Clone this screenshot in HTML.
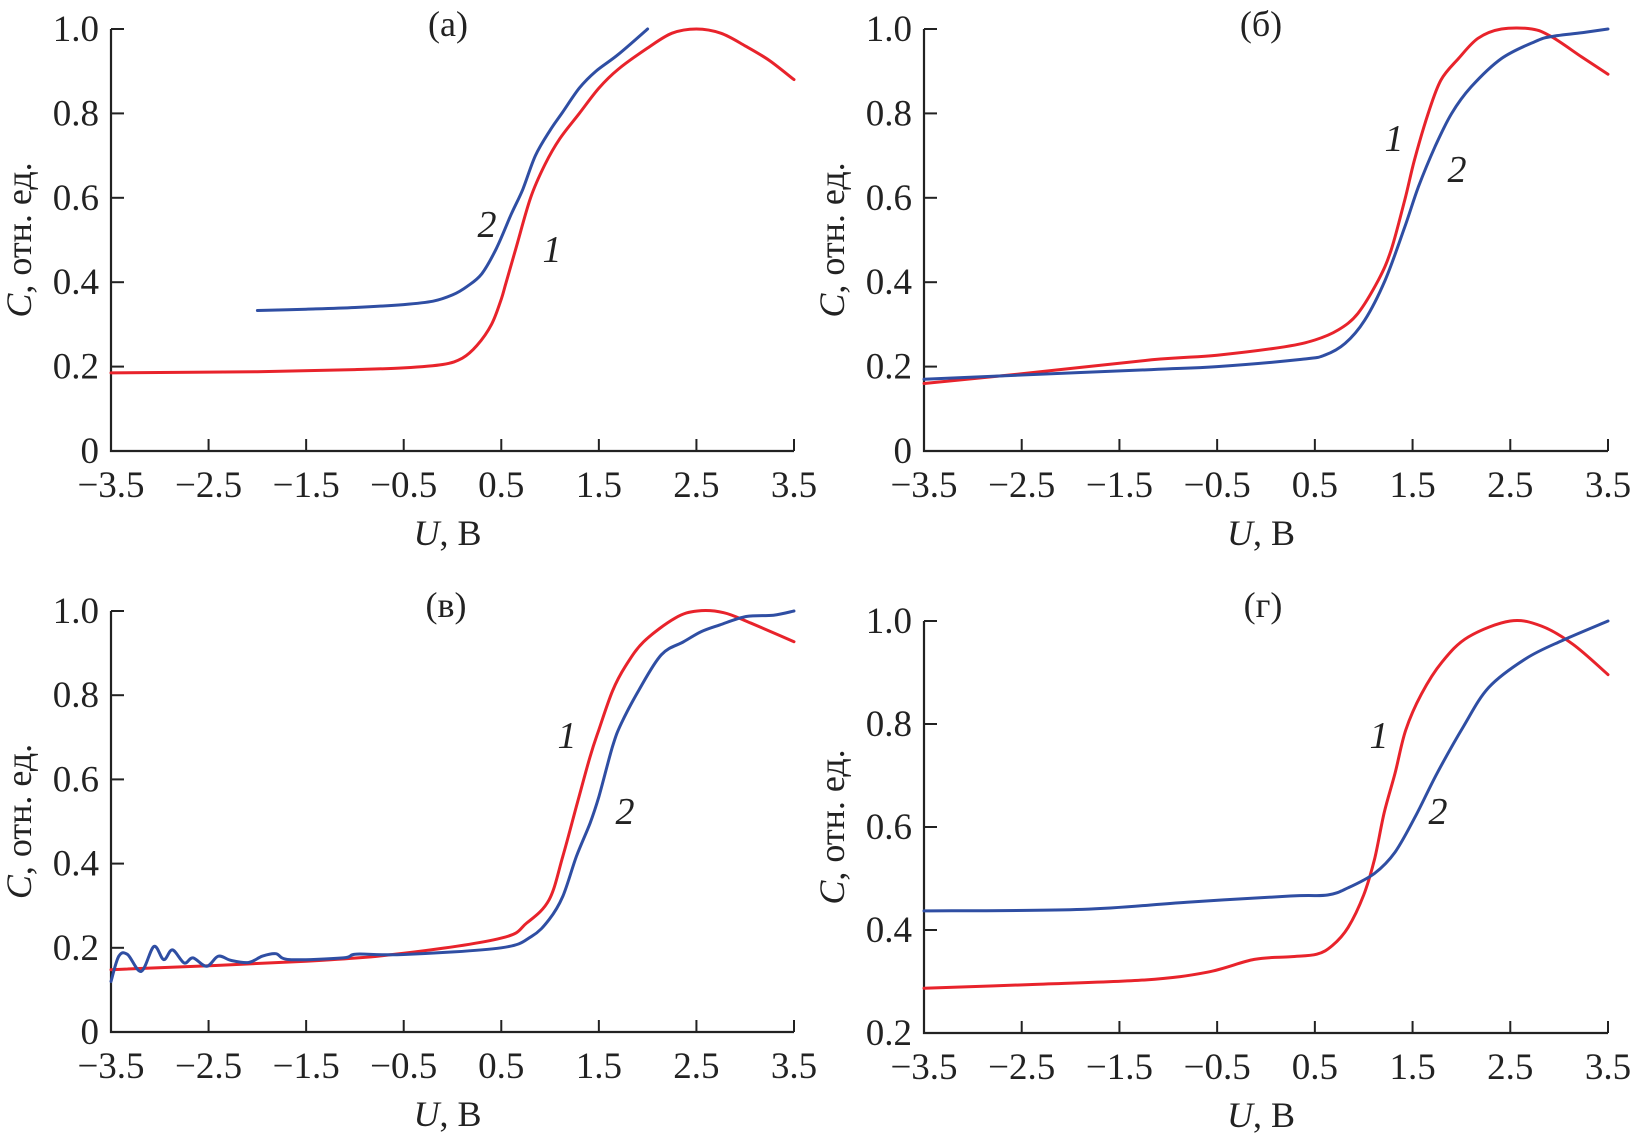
<!DOCTYPE html>
<html><head><meta charset="utf-8"><style>
html,body{margin:0;padding:0;background:#fff;}
svg{display:block;}
text{font-family:"Liberation Serif",serif;fill:#222;}
</style></head><body>
<svg id="fig" width="1634" height="1133" viewBox="0 0 1634 1133" xmlns="http://www.w3.org/2000/svg"></svg>
<script>
// ---- data ----
const xTicks = [-3.5,-2.5,-1.5,-0.5,0.5,1.5,2.5,3.5];
const xTickLabels = ["\u22123.5","\u22122.5","\u22121.5","\u22120.5","0.5","1.5","2.5","3.5"];
const yTicksA = [0,0.2,0.4,0.6,0.8,1.0];
const yTickLabelsA = ["0","0.2","0.4","0.6","0.8","1.0"];
const yTicksG = [0.2,0.4,0.6,0.8,1.0];
const yTickLabelsG = ["0.2","0.4","0.6","0.8","1.0"];
const panelTitles = ["(а)","(б)","(в)","(г)"];

const aRedU = [-3.5,-2,-1,-0.5,-0.1,0.1,0.25,0.4,0.5,0.55,0.65,0.8,0.95,1.1,1.3,1.5,1.7,2.0,2.25,2.5,2.75,3.0,3.25,3.5];
const aRedC = [0.185,0.188,0.193,0.197,0.205,0.22,0.25,0.3,0.36,0.4,0.48,0.6,0.68,0.74,0.8,0.86,0.905,0.955,0.99,1.0,0.99,0.96,0.925,0.88];
const aBlueU = [-2,-1.5,-1,-0.5,-0.2,0,0.15,0.3,0.45,0.6,0.72,0.85,1.0,1.12,1.3,1.47,1.7,2.0];
const aBlueC = [0.333,0.336,0.34,0.347,0.355,0.37,0.39,0.42,0.48,0.56,0.62,0.7,0.76,0.8,0.86,0.9,0.94,1.0];

const bRedU = [-3.5,-2.5,-1.17,-0.5,0.19,0.5,0.74,0.94,1.15,1.28,1.42,1.52,1.66,1.79,1.97,2.17,2.41,2.72,2.92,3.23,3.5];
const bRedC = [0.16,0.183,0.216,0.227,0.247,0.263,0.287,0.326,0.405,0.476,0.595,0.69,0.8,0.879,0.93,0.978,1.0,1.0,0.982,0.934,0.893];
const bBlueU = [-3.5,-2.5,-1.17,-0.5,0.36,0.6,0.81,1.01,1.22,1.42,1.56,1.73,1.9,2.1,2.41,2.75,2.92,3.26,3.5];
const bBlueC = [0.17,0.18,0.193,0.2,0.217,0.227,0.255,0.31,0.405,0.531,0.626,0.721,0.8,0.863,0.93,0.97,0.982,0.992,1.0];

const vRedU = [-3.5,-1.5,-0.5,0.5,0.76,0.99,1.13,1.27,1.41,1.5,1.64,1.77,1.96,2.28,2.51,2.78,3.06,3.5];
const vRedC = [0.148,0.168,0.187,0.223,0.259,0.314,0.417,0.536,0.654,0.718,0.81,0.868,0.927,0.983,1.0,0.996,0.971,0.927];
const vBlueU = [-3.5,-3.42,-3.33,-3.19,-3.06,-2.96,-2.87,-2.75,-2.66,-2.52,-2.4,-2.27,-2.09,-1.95,-1.81,-1.67,-1.12,-0.98,-0.5,0.5,0.81,0.99,1.13,1.27,1.41,1.5,1.64,1.73,1.91,2.14,2.37,2.55,2.74,3.01,3.29,3.5];
const vBlueC = [0.12,0.18,0.184,0.144,0.203,0.172,0.195,0.164,0.176,0.156,0.18,0.17,0.165,0.18,0.186,0.172,0.176,0.185,0.184,0.2,0.227,0.267,0.322,0.417,0.496,0.559,0.678,0.733,0.812,0.896,0.927,0.951,0.967,0.987,0.99,1.0];

const gRedU = [-3.5,-2.42,-1.24,-0.6,-0.12,0.25,0.52,0.68,0.84,1.0,1.11,1.21,1.32,1.43,1.59,1.8,2.07,2.5,2.82,3.14,3.5];
const gRedC = [0.287,0.294,0.303,0.318,0.343,0.348,0.353,0.37,0.405,0.468,0.537,0.628,0.704,0.788,0.858,0.92,0.969,1.0,0.99,0.955,0.896];
const gBlueU = [-3.5,-1.88,-0.81,0.25,0.63,0.84,1.11,1.32,1.53,1.75,2.02,2.28,2.66,3.03,3.5];
const gBlueC = [0.437,0.44,0.454,0.466,0.468,0.482,0.51,0.551,0.621,0.704,0.795,0.871,0.927,0.962,1.0];

// ---- drawing ----
const NS = "http://www.w3.org/2000/svg";
const svg = document.getElementById("fig");
function mk(tag, attrs, parent){
  const e = document.createElementNS(NS, tag);
  for (const k in attrs) e.setAttribute(k, attrs[k]);
  (parent||svg).appendChild(e);
  return e;
}
const RED = "#e8232b", BLUE = "#2f4ea3";

function smoothPath(pts){
  let d = "M" + pts[0][0].toFixed(1) + "," + pts[0][1].toFixed(1);
  for (let i = 0; i < pts.length - 1; i++){
    const p0 = pts[Math.max(0,i-1)], p1 = pts[i], p2 = pts[i+1], p3 = pts[Math.min(pts.length-1,i+2)];
    const c1x = p1[0] + (p2[0]-p0[0])/6, c1y = p1[1] + (p2[1]-p0[1])/6;
    const c2x = p2[0] - (p3[0]-p1[0])/6, c2y = p2[1] - (p3[1]-p1[1])/6;
    d += ` C${c1x.toFixed(1)},${c1y.toFixed(1)} ${c2x.toFixed(1)},${c2y.toFixed(1)} ${p2[0].toFixed(1)},${p2[1].toFixed(1)}`;
  }
  return d;
}

function panel(key, x0, x1, yTop, yBot, yMin, yTicks, yLabels, title, titlePos, series, labels){
  const g = mk("g", {});
  
  
  const sx = u => x0 + (u + 3.5) / 7 * (x1 - x0);
  const sy = c => yBot - (c - yMin) / (1 - yMin) * (yBot - yTop);
  const ax = mk("path", {d:`M${x0},${yTop} L${x0},${yBot} L${x1},${yBot}`, fill:"none", stroke:"#222", "stroke-width":2.2}, g);
  
  
  xTicks.forEach((u,i)=>{
    const t = mk("line", {x1:sx(u), x2:sx(u), y1:yBot, y2:yBot-12, stroke:"#222","stroke-width":2}, g);
    
    
    const tl = mk("text", {x:sx(u), y:yBot+46, "text-anchor":"middle", "font-size":37}, g);
    
    
    tl.textContent = xTickLabels[i];
  });
  yTicks.forEach((c,i)=>{
    const t = mk("line", {x1:x0, x2:x0+13, y1:sy(c), y2:sy(c), stroke:"#222","stroke-width":2}, g);
    
    
    const tl = mk("text", {x:x0-12, y:sy(c)+12, "text-anchor":"end", "font-size":37}, g);
    
    
    tl.textContent = yLabels[i];
  });
  const cy = (yTop+yBot)/2;
  const yt = mk("text", {x:0, y:0, transform:`translate(${x0-80},${cy}) rotate(-90)`, "text-anchor":"middle", "font-size":36}, g);
  
  
  yt.innerHTML = '<tspan font-style="italic">C</tspan>, отн. ед.';
  const xt = mk("text", {x:(x0+x1)/2-5, y:yBot+94, "text-anchor":"middle", "font-size":36}, g);
  
  
  xt.innerHTML = '<tspan font-style="italic">U</tspan>, В';
  const pt = mk("text", {x:titlePos[0], y:titlePos[1], "text-anchor":"middle", "font-size":36}, g);
  
  
  pt.textContent = title;
  series.forEach(s=>{
    const pts = s.u.map((u,i)=>[sx(u), sy(s.c[i])]);
    const p = mk("path", {d:smoothPath(pts), fill:"none", stroke:s.color, "stroke-width":3, "stroke-linejoin":"round", "stroke-linecap":"round"}, g);
    
    
  });
  labels.forEach(l=>{
    const t = mk("text", {x:l[1], y:l[2], "text-anchor":"middle", "font-size":38, "font-style":"italic"}, g);
    
    
    t.textContent = l[0];
  });
}

panel("a", 111, 794, 29, 451, 0, yTicksA, yTickLabelsA, panelTitles[0], [448,36],
  [{u:aRedU,c:aRedC,color:RED,name:"curve-1-red"},{u:aBlueU,c:aBlueC,color:BLUE,name:"curve-2-blue"}],
  [["2",487,237],["1",552,262]]);
panel("b", 924, 1608, 29, 451, 0, yTicksA, yTickLabelsA, panelTitles[1], [1261,36],
  [{u:bRedU,c:bRedC,color:RED,name:"curve-1-red"},{u:bBlueU,c:bBlueC,color:BLUE,name:"curve-2-blue"}],
  [["1",1394,151],["2",1457,182]]);
panel("v", 111, 794, 611, 1032, 0, yTicksA, yTickLabelsA, panelTitles[2], [446,617],
  [{u:vRedU,c:vRedC,color:RED,name:"curve-1-red"},{u:vBlueU,c:vBlueC,color:BLUE,name:"curve-2-blue"}],
  [["1",567,748],["2",625,824]]);
panel("g", 924, 1608, 621, 1033, 0.2, yTicksG, yTickLabelsG, panelTitles[3], [1263,617],
  [{u:gRedU,c:gRedC,color:RED,name:"curve-1-red"},{u:gBlueU,c:gBlueC,color:BLUE,name:"curve-2-blue"}],
  [["1",1379,748],["2",1438,824]]);
</script>
</body></html>
